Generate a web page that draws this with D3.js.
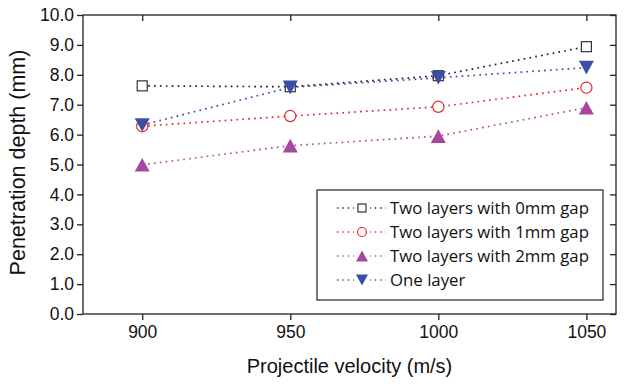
<!DOCTYPE html>
<html><head><meta charset="utf-8">
<script src="https://cdn.jsdelivr.net/npm/d3@7"></script>
<style>body{margin:0;background:#fff}svg{display:block}</style>
</head><body>
<svg id="c" width="626" height="387"></svg>
<script>
const velocities = [900, 950, 1000, 1050];
const gap0 = [7.63, 7.6, 7.97, 8.94];
const gap1 = [6.28, 6.62, 6.93, 7.57];
const gap2 = [4.99, 5.63, 5.95, 6.9];
const oneLayer = [6.32, 7.58, 7.9, 8.24];
const yTicks = [0,1,2,3,4,5,6,7,8,9,10];
const seriesNames = ["Two layers with 0mm gap","Two layers with 1mm gap","Two layers with 2mm gap","One layer"];

const series = [
  {name: seriesNames[0], values: gap0, color: "#222", line: "#222", sym: "square"},
  {name: seriesNames[1], values: gap1, color: "#e8262a", line: "#e8262a", sym: "circle"},
  {name: seriesNames[2], values: gap2, color: "#a9479f", line: "#b24ca8", sym: "up"},
  {name: seriesNames[3], values: oneLayer, color: "#3b4ea6", line: "#3b4ea6", sym: "down"}
];

const svg = d3.select("#c");
const L = 83, R = 616, T = 15, B = 314;
const x = d3.scaleLinear().domain([880, 1060]).range([L, R]);
const y = d3.scaleLinear().domain([0, 10]).range([B, T]);

svg.append("rect").attr("x", L).attr("y", T).attr("width", R - L).attr("height", B - T)
  .attr("fill", "none").attr("stroke", "#222").attr("stroke-width", 1.3);

const fmt = d3.format(".1f");
const gl = svg.append("g").attr("transform", `translate(${L},0)`)
  .call(d3.axisLeft(y).tickValues(yTicks).tickFormat(fmt).tickSize(6).tickPadding(3));
const gr = svg.append("g").attr("transform", `translate(${R},0)`)
  .call(d3.axisLeft(y).tickValues(yTicks).tickFormat("").tickSize(6));
const gb = svg.append("g").attr("transform", `translate(0,${B})`)
  .call(d3.axisBottom(x).tickValues(velocities).tickFormat(d3.format("d")).tickSize(6).tickPadding(6));
const gt = svg.append("g").attr("transform", `translate(0,${T})`)
  .call(d3.axisBottom(x).tickValues(velocities).tickFormat("").tickSize(6));
[gl, gr, gb, gt].forEach(g => {
  g.select(".domain").remove();
  g.selectAll("line").attr("stroke", "#222").attr("stroke-width", 1.3);
  g.selectAll("text").attr("font-family", "Liberation Sans, Arial, sans-serif")
    .attr("font-size", 17.5).attr("fill", "#111");
});

svg.append("text").attr("x", (L + R) / 2).attr("y", 373).attr("text-anchor", "middle")
  .attr("font-family", "Liberation Sans, Arial, sans-serif").attr("font-size", 20).attr("fill", "#111")
  .text("Projectile velocity (m/s)");
svg.append("text").attr("transform", `translate(25,${(T + B) / 2 - 2}) rotate(-90)`).attr("text-anchor", "middle")
  .attr("font-family", "Liberation Sans, Arial, sans-serif").attr("font-size", 21.5).attr("fill", "#111")
  .text("Penetration depth (mm)");

function marker(g, s, cx, cy, scale) {
  const k = scale || 1;
  if (s.sym === "square") {
    const h = 5 * k;
    g.append("rect").attr("x", cx - h).attr("y", cy - h).attr("width", 2 * h).attr("height", 2 * h)
      .attr("fill", "#fff").attr("stroke", "#333").attr("stroke-width", 1.2);
  } else if (s.sym === "circle") {
    g.append("circle").attr("cx", cx).attr("cy", cy).attr("r", 5.6 * k)
      .attr("fill", "#fff").attr("stroke", s.color).attr("stroke-width", 1.2);
  } else {
    const w = 7.5 * k, hh = 6.8 * k;
    const dir = s.sym === "up" ? 1 : -1;
    const pts = [[cx - w, cy + dir * hh], [cx + w, cy + dir * hh], [cx, cy - dir * hh]];
    g.append("path").attr("d", d3.line()(pts) + "Z").attr("fill", s.color).attr("stroke", "none");
  }
}

const line = d3.line().x((d, i) => x(velocities[i])).y(d => y(d));
series.forEach(s => {
  svg.append("path").datum(s.values).attr("d", line).attr("fill", "none")
    .attr("stroke", s.line).attr("stroke-width", 1.7).attr("stroke-dasharray", "1.7,4.2")
    .attr("stroke-linecap", "butt");
});
series.forEach(s => {
  const g = svg.append("g");
  s.values.forEach((v, i) => marker(g, s, x(velocities[i]), y(v)));
});

const lg = svg.append("g");
lg.append("rect").attr("x", 317).attr("y", 190).attr("width", 286).attr("height", 110)
  .attr("fill", "#fff").attr("stroke", "#222").attr("stroke-width", 1.2);
series.forEach((s, i) => {
  const cy = 208 + i * 24;
  lg.append("line").attr("x1", 337).attr("x2", 386).attr("y1", cy).attr("y2", cy)
    .attr("stroke", s.line).attr("stroke-width", 1.4).attr("stroke-dasharray", "1.4,4");
  lg.append("rect").attr("x", 354).attr("y", cy - 7).attr("width", 16).attr("height", 14).attr("fill", "#fff");
  marker(lg, s, 362, cy, 0.8);
  lg.append("text").attr("x", 390).attr("y", cy + 6).attr("font-family", "Open Sans, Noto Sans, sans-serif")
    .attr("font-size", 16.8).attr("fill", "#111").text(s.name);
});
</script>
</body></html>
